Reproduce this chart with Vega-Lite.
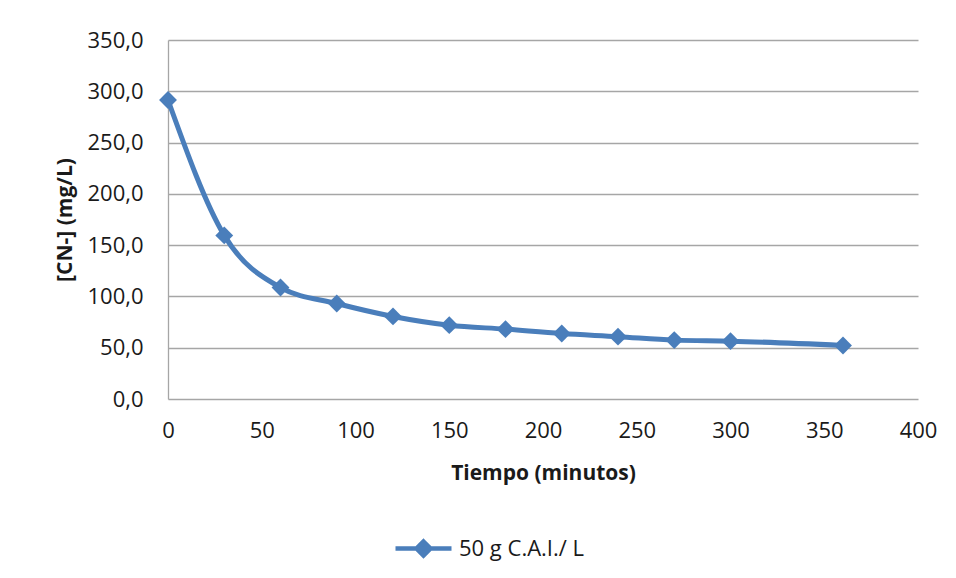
{
  "$schema": "https://vega.github.io/schema/vega-lite/v6.json",
  "width": 750,
  "height": 359,
  "autosize": {"type": "none"},
  "padding": {"left": 168, "top": 40, "right": 38, "bottom": 179},
  "background": "white",
  "config": {
    "font": "Open Sans",
    "view": {"stroke": null},
    "axis": {"labelFont": "Open Sans", "titleFont": "Open Sans", "labelColor": "#1a1a1a", "titleColor": "#1a1a1a"}
  },
  "data": {
    "values": [
      {"t": 0, "cn": 291.5, "serie": "50 g C.A.I./ L"},
      {"t": 30, "cn": 159.5, "serie": "50 g C.A.I./ L"},
      {"t": 60, "cn": 108.7, "serie": "50 g C.A.I./ L"},
      {"t": 90, "cn": 93.1, "serie": "50 g C.A.I./ L"},
      {"t": 120, "cn": 80.5, "serie": "50 g C.A.I./ L"},
      {"t": 150, "cn": 72.0, "serie": "50 g C.A.I./ L"},
      {"t": 180, "cn": 68.1, "serie": "50 g C.A.I./ L"},
      {"t": 210, "cn": 63.8, "serie": "50 g C.A.I./ L"},
      {"t": 240, "cn": 60.8, "serie": "50 g C.A.I./ L"},
      {"t": 270, "cn": 57.4, "serie": "50 g C.A.I./ L"},
      {"t": 300, "cn": 56.4, "serie": "50 g C.A.I./ L"},
      {"t": 360, "cn": 52.2, "serie": "50 g C.A.I./ L"}
    ]
  },
  "encoding": {
    "x": {
      "field": "t", "type": "quantitative",
      "scale": {"domain": [0, 400], "nice": false},
      "axis": {
        "title": "Tiempo (minutos)",
        "values": [0, 50, 100, 150, 200, 250, 300, 350, 400],
        "grid": false, "domain": false, "ticks": false,
        "labelFlush": false,
        "labelFontSize": 22, "labelPadding": 21,
        "titleFontSize": 21, "titleFontWeight": "bold", "titlePadding": 21
      }
    },
    "y": {
      "field": "cn", "type": "quantitative",
      "scale": {"domain": [0, 350], "nice": false},
      "axis": {
        "title": "[CN-] (mg/L)",
        "values": [0, 50, 100, 150, 200, 250, 300, 350],
        "labelExpr": "replace(format(datum.value, '.1f'), '.', ',')",
        "grid": true, "gridColor": "#a6a6a6", "gridWidth": 1.3,
        "domain": true, "domainColor": "#a6a6a6", "domainWidth": 1.3,
        "ticks": false,
        "labelFontSize": 22, "labelPadding": 25,
        "titleFontSize": 21, "titleFontWeight": "bold", "titlePadding": 11
      }
    },
    "color": {
      "field": "serie", "type": "nominal",
      "scale": {"range": ["#4A7EBB"]},
      "legend": {
        "title": null,
        "orient": "none",
        "legendX": 225,
        "legendY": 478,
        "symbolType": "M-1,0H1M0,-0.25L0.25,0L0,0.25L-0.25,0Z",
        "symbolSize": 3136,
        "symbolStrokeWidth": 4.5,
        "symbolFillColor": "#4A7EBB",
        "symbolStrokeColor": "#4A7EBB",
        "labelFontSize": 22,
        "labelColor": "#1a1a1a",
        "labelOffset": 5
      }
    }
  },
  "layer": [
    {"mark": {"type": "line", "interpolate": "monotone", "strokeWidth": 5}},
    {"mark": {"type": "point", "shape": "diamond", "filled": true, "size": 320, "opacity": 1}}
  ]
}
